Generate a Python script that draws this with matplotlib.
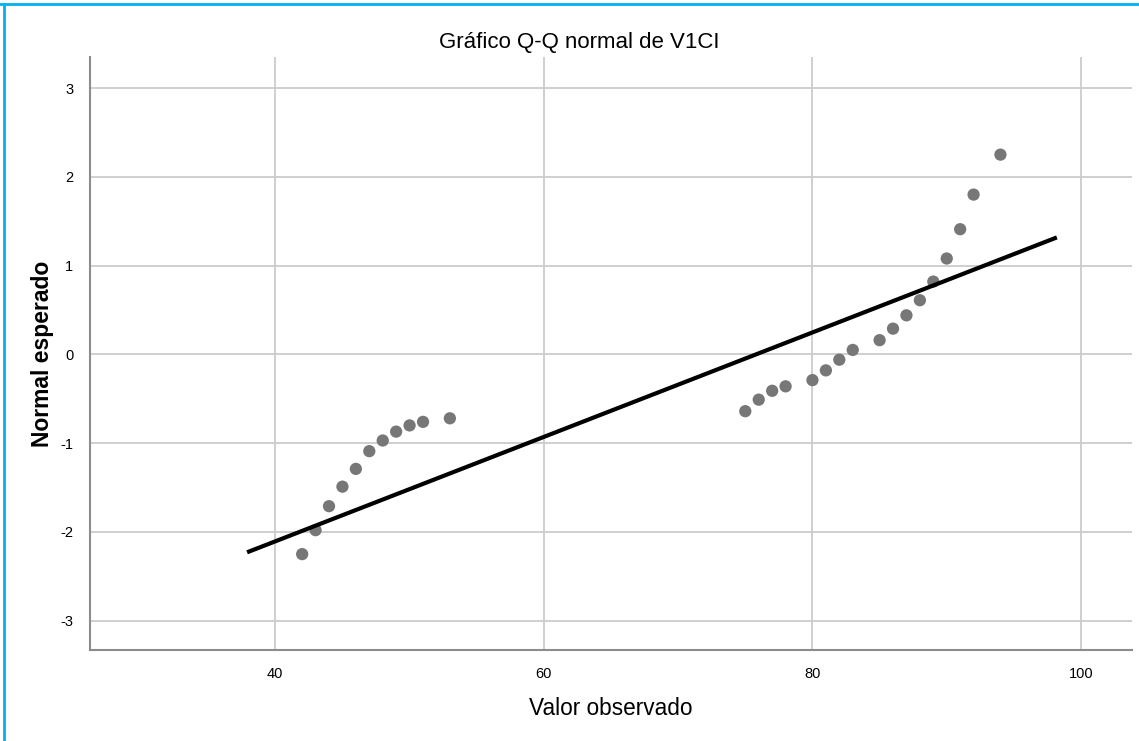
import numpy as np
import matplotlib.pyplot as plt
from matplotlib.lines import Line2D

plt.rcParams['font.family'] = ['Liberation Sans', 'DejaVu Sans']
plt.rcParams['axes.unicode_minus'] = False

# observed values and their expected normal scores
valor_observado = np.array([42, 43, 44, 45, 46, 47, 48, 49, 50, 51, 53,
                            75, 76, 77, 78, 80, 81, 82, 83, 85, 86, 87,
                            88, 89, 90, 91, 92, 94])
normal_esperado = np.array([-2.25, -1.98, -1.71, -1.49, -1.29, -1.09, -0.97,
                            -0.87, -0.80, -0.76, -0.72,
                            -0.64, -0.51, -0.41, -0.36, -0.29, -0.18, -0.06,
                            0.05, 0.16, 0.29, 0.44, 0.61, 0.82, 1.08, 1.41,
                            1.80, 2.25])

# reference line of the normal distribution
ref_media = 75.8
ref_desv = 17.0
ref_x = np.array([37.9, 98.2])

x_ticks = [40, 60, 80, 100]
y_ticks = [-3, -2, -1, 0, 1, 2, 3]

fig = plt.figure(figsize=(11.39, 7.41), dpi=100)
ax = fig.add_axes([0.079, 0.1228, 0.9149, 0.8003])

ax.scatter(valor_observado, normal_esperado, s=78, color='#777777',
           edgecolors='none', zorder=3)
ax.plot(ref_x, (ref_x - ref_media) / ref_desv, color='black', lw=3,
        solid_capstyle='butt', zorder=4)

ax.set_xlim(26.2, 103.8)
ax.set_ylim(-3.33, 3.35)
ax.set_xticks(x_ticks)
ax.set_yticks(y_ticks)
ax.tick_params(length=0, labelsize=10.5, pad=12)
ax.grid(True, color='#cccccc', lw=1.3)
ax.set_axisbelow(True)

for s in ['top', 'right']:
    ax.spines[s].set_visible(False)
for s in ['left', 'bottom']:
    ax.spines[s].set_color('#8c8c8c')
    ax.spines[s].set_linewidth(1.5)

fig.text(0.5088, 0.942, 'Gráfico Q-Q normal de V1CI', ha='center',
         va='center', fontsize=16)
fig.text(0.536, 0.0445, 'Valor observado', ha='center', va='center',
         fontsize=16.3)
fig.text(0.037, 0.522, 'Normal esperado', ha='center', va='center',
         fontsize=16.5, fontweight='bold', rotation=90)

# blue frame along the top and left edges
fig.add_artist(Line2D([0.0, 1.0], [0.9945, 0.9945], color='#00b0f0', lw=2,
                      transform=fig.transFigure))
fig.add_artist(Line2D([0.0035, 0.0035], [0.0, 0.9945], color='#00b0f0', lw=2,
                      transform=fig.transFigure))

fig.savefig('out.png', dpi=100)
